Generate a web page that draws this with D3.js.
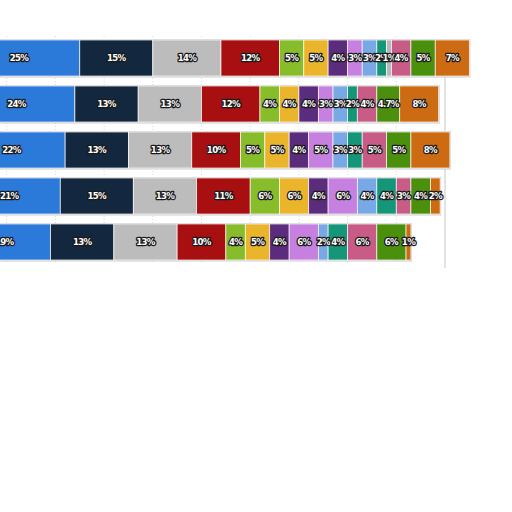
<!DOCTYPE html>
<html>
<head>
<meta charset="utf-8">
<script src="https://cdn.jsdelivr.net/npm/d3@7"></script>
<style>
html,body{margin:0;padding:0;background:#fff;}
svg{display:block;}
</style>
</head>
<body>
<svg id="chart" width="512" height="512"></svg>
<script>
// Rows (top to bottom); names are cut off in the reference
const categories = ["Row 1", "Row 2", "Row 3", "Row 4", "Row 5"];
// Series (left to right), values in percent
const seriesNames = ["S1","S2","S3","S4","S5","S6","S7","S8","S9","S10","S11","S12","S13","S14"];
const s1  = [25, 24, 22, 21, 19];
const s2  = [15, 13, 13, 15, 13];
const s3  = [14, 13, 13, 13, 13];
const s4  = [12, 12, 10, 11, 10];
const s5  = [5, 4, 5, 6, 4];
const s6  = [5, 4, 5, 6, 5];
const s7  = [4, 4, 4, 4, 4];
const s8  = [3, 3, 5, 6, 6];
const s9  = [3, 3, 3, 4, 2];
const s10 = [2, 2, 3, 4, 4];
const s11 = [1, 0, 0, 0, 0];
const s12 = [4, 4, 5, 3, 6];
const s13 = [5, 4.7, 5, 4, 6];
const s14 = [7, 8, 8, 2, 1];
const seriesValues = [s1,s2,s3,s4,s5,s6,s7,s8,s9,s10,s11,s12,s13,s14];
const colors = ["#2b79d9","#13283f","#bcbcbc","#a70f10","#87bd2b","#ebb52b","#5b2b7c","#c580e0","#79a8e6","#169678","#b8b8b8","#c95c87","#4a900d","#cd6b12"];
const xTicks = [0,10,20,30,40,50,60,70,80,90,100];

const svg = d3.select("#chart");

const x = d3.scaleLinear().domain([0, 100]).range([-42, 445]);
const y = d3.scaleBand().domain(categories).range([40, 260]).paddingInner(0.217).paddingOuter(0.0);

const rows = categories.map((c, i) => {
  const obj = {cat: c};
  seriesNames.forEach((s, j) => obj[s] = seriesValues[j][i]);
  return obj;
});
const stack = d3.stack().keys(seriesNames)(rows);

// gridlines
const grid = svg.append("g");
grid.selectAll("line.g").data(xTicks.slice(0, -1)).join("line")
  .attr("x1", d => x(d)).attr("x2", d => x(d))
  .attr("y1", 36).attr("y2", 262)
  .attr("stroke", "#d4d4d4").attr("stroke-width", 1)
  .attr("stroke-dasharray", "1,2");
grid.append("line")
  .attr("x1", x(100)).attr("x2", x(100))
  .attr("y1", 76).attr("y2", 268)
  .attr("stroke", "#e2e2e2").attr("stroke-width", 2);

// bar shadows / outline
const totals = rows.map((r, i) => d3.sum(seriesValues, s => s[i]));
svg.append("g").selectAll("rect").data(categories).join("rect")
  .attr("x", x(0) - 1)
  .attr("y", d => y(d) - 1)
  .attr("width", (d, i) => x(totals[i]) - x(0) + 2)
  .attr("height", y.bandwidth() + 2.5)
  .attr("fill", "#cfcfcf");

// segments
const layers = svg.append("g").selectAll("g").data(stack).join("g")
  .attr("fill", (d, i) => colors[i]);
layers.selectAll("rect").data(d => d.map((v, i) => ({v, cat: categories[i]})).filter(o => o.v[1] - o.v[0] > 0))
  .join("rect")
  .attr("x", o => x(o.v[0]))
  .attr("y", o => y(o.cat))
  .attr("width", o => x(o.v[1]) - x(o.v[0]))
  .attr("height", y.bandwidth())
  .attr("stroke", "#ffffff")
  .attr("stroke-opacity", 0.85)
  .attr("stroke-width", 0.8);

// labels
const labelG = svg.append("g")
  .attr("font-family", "'DejaVu Sans', Verdana, sans-serif")
  .attr("font-weight", "bold")
  .attr("font-size", "8.6px")
  .attr("text-anchor", "middle");
stack.forEach((layer, j) => {
  layer.forEach((v, i) => {
    const val = v[1] - v[0];
    if (val <= 0) return;
    labelG.append("text")
      .attr("x", x((v[0] + v[1]) / 2))
      .attr("y", y(categories[i]) + y.bandwidth() / 2 + 3.3)
      .attr("fill", "#ffffff")
      .attr("stroke", "#1a1a1a")
      .attr("stroke-width", 2.6)
      .attr("stroke-linejoin", "round")
      .attr("paint-order", "stroke")
      .attr("letter-spacing", "-0.7px")
      .text(d3.format("~")(val) + "%");
  });
});
</script>
</body>
</html>
